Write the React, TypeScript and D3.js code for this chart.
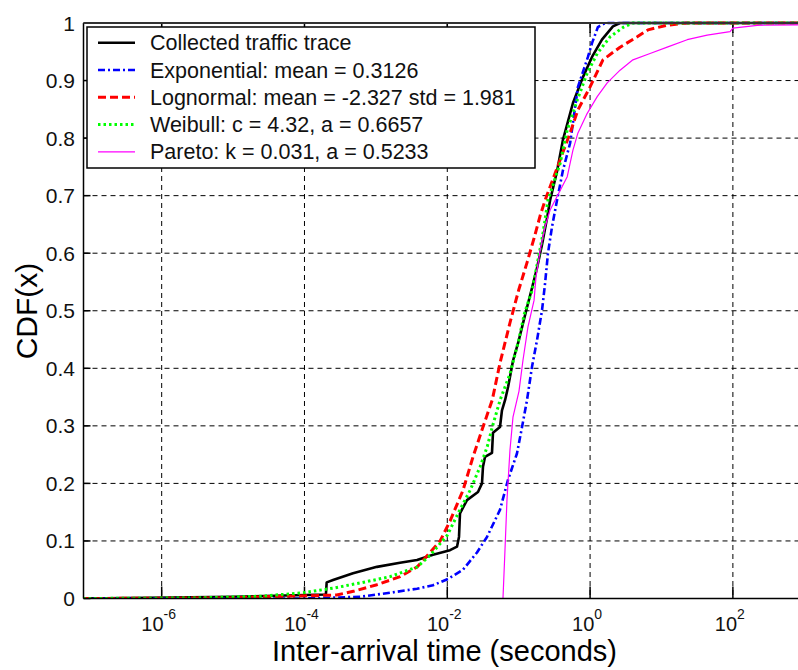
import React from "react";
import * as d3 from "d3";

// ---- data (x stored as log10 of inter-arrival time in seconds) ----
const traceLogX = [-7.1, -5.0, -3.7, -3.689, -3.6, -3.32, -2.985, -2.662, -2.424, -2.2, -1.962, -1.864, -1.836, -1.822, -1.724, -1.57, -1.514, -1.5, -1.472, -1.374, -1.36, -1.262, -1.234, -1.19, -1.148, -1.078, -1.008, -0.952, -0.881, -0.81, -0.74, -0.67, -0.6, -0.56, -0.46, -0.38, -0.24, -0.1, 0.027, 0.166, 0.32, 0.42, 3.0];
const traceCdf = [0.0, 0.003, 0.007, 0.028, 0.032, 0.044, 0.055, 0.062, 0.067, 0.076, 0.084, 0.09, 0.107, 0.148, 0.171, 0.185, 0.2, 0.229, 0.246, 0.253, 0.288, 0.298, 0.327, 0.345, 0.368, 0.414, 0.444, 0.472, 0.507, 0.541, 0.576, 0.617, 0.663, 0.692, 0.744, 0.797, 0.861, 0.906, 0.941, 0.971, 0.994, 1.0, 1.0];

const expLogX = [-7.1, -4.0, -3.22, -2.8, -2.424, -2.2, -1.99, -1.78, -1.682, -1.584, -1.444, -1.262, -1.15, -1.024, -0.953, -0.883, -0.813, -0.743, -0.673, -0.63, -0.59, -0.533, -0.463, -0.38, -0.28, -0.17, -0.03, 0.027, 0.11, 0.21, 3.0];
const expCdf = [0.0, 0.0, 0.003, 0.01, 0.017, 0.023, 0.034, 0.05, 0.065, 0.08, 0.107, 0.154, 0.206, 0.252, 0.298, 0.345, 0.403, 0.449, 0.501, 0.548, 0.6, 0.646, 0.692, 0.744, 0.791, 0.889, 0.941, 0.965, 0.993, 1.0, 1.0];

const lognLogX = [-7.1, -5.0, -4.6, -3.55, -3.3, -2.985, -2.66, -2.42, -2.1, -1.96, -1.78, -1.64, -1.5, -1.37, -1.26, -1.12, -1.0, -0.88, -0.78, -0.7, -0.63, -0.42, -0.28, -0.17, 0.0, 0.18, 0.42, 0.66, 0.81, 1.07, 1.35, 3.0];
const lognCdf = [0.0, 0.001, 0.003, 0.006, 0.013, 0.024, 0.038, 0.055, 0.1, 0.135, 0.188, 0.246, 0.298, 0.345, 0.41, 0.48, 0.536, 0.585, 0.628, 0.665, 0.692, 0.762, 0.809, 0.849, 0.889, 0.936, 0.958, 0.976, 0.988, 0.996, 1.0, 1.0];

const weibLogX = [-7.1, -5.5, -4.6, -4.02, -3.6, -3.22, -2.8, -2.42, -2.24, -2.0, -1.82, -1.68, -1.54, -1.44, -1.37, -1.26, -1.12, -1.0, -0.92, -0.81, -0.73, -0.66, -0.59, -0.42, -0.32, -0.18, -0.04, 0.1, 0.28, 0.47, 0.6, 3.0];
const weibCdf = [0.0, 0.001, 0.004, 0.01, 0.018, 0.027, 0.038, 0.055, 0.075, 0.11, 0.155, 0.188, 0.229, 0.264, 0.298, 0.345, 0.391, 0.449, 0.495, 0.536, 0.588, 0.634, 0.692, 0.756, 0.814, 0.866, 0.913, 0.947, 0.976, 0.993, 1.0, 1.0];

const paretoLogX = [-1.22, -1.192, -1.164, -1.122, -1.08, -1.024, -0.996, -0.94, -0.87, -0.785, -0.757, -0.7, -0.63, -0.56, -0.49, -0.32, -0.24, -0.17, -0.04, 0.1, 0.24, 0.42, 0.6, 0.84, 1.08, 1.36, 1.64, 1.96, 2.0, 2.34, 3.0];
const paretoCdf = [0.0, 0.084, 0.171, 0.258, 0.315, 0.345, 0.36, 0.414, 0.472, 0.518, 0.559, 0.605, 0.646, 0.675, 0.692, 0.733, 0.779, 0.809, 0.843, 0.872, 0.896, 0.918, 0.936, 0.947, 0.958, 0.971, 0.979, 0.985, 0.991, 0.996, 0.997];

const xTickExps = [-6, -4, -2, 0, 2];
const yTicks = [0, 0.1, 0.2, 0.3, 0.4, 0.5, 0.6, 0.7, 0.8, 0.9, 1];
const yTickLabels = ["0", "0.1", "0.2", "0.3", "0.4", "0.5", "0.6", "0.7", "0.8", "0.9", "1"];

const legendLabels = [
  "Collected traffic trace",
  "Exponential: mean = 0.3126",
  "Lognormal: mean = -2.327 std = 1.981",
  "Weibull: c = 4.32, a = 0.6657",
  "Pareto: k = 0.031, a = 0.5233",
];

const seriesStyles = [
  { color: "#000000", width: 2.6, dash: "none" },
  { color: "#0000ff", width: 2.6, dash: "7,3,2,3" },
  { color: "#ff0000", width: 3, dash: "8,4" },
  { color: "#00ff00", width: 3, dash: "2.5,3" },
  { color: "#ff00ff", width: 1.2, dash: "none" },
];

const FONT = "Arial, 'Liberation Sans', sans-serif";

export default function App() {
  const W = 798, H = 670;
  const left = 83.5, top = 23, bottom = 598.5;
  const pxPerDecade = 71.4;
  const xMinExp = -7.095, xMaxExp = 3.0;
  const x = d3.scaleLog()
    .domain([Math.pow(10, xMinExp), Math.pow(10, xMaxExp)])
    .range([left, left + (xMaxExp - xMinExp) * pxPerDecade]);
  const y = d3.scaleLinear().domain([0, 1]).range([bottom, top]);
  const right = W + 2;

  const series = [
    [traceLogX, traceCdf],
    [expLogX, expCdf],
    [lognLogX, lognCdf],
    [weibLogX, weibCdf],
    [paretoLogX, paretoCdf],
  ];
  const line = d3.line<[number, number]>()
    .x((d) => x(Math.pow(10, d[0])))
    .y((d) => y(d[1]));

  const legX = 87, legY = 27, legW = 448, legH = 141;
  const rowY = (i: number) => 42.7 + i * 27.3;

  return (
    <svg width={W} height={H} style={{ position: "fixed", left: 0, top: 0, background: "#fff" }}>
      <rect x={0} y={0} width={W} height={H} fill="#fff" />
      <defs>
        <clipPath id="plotclip">
          <rect x={left} y={top - 3} width={right - left} height={bottom - top + 3} />
        </clipPath>
      </defs>
      {/* grid */}
      {xTickExps.map((e) => (
        <line key={"gx" + e} x1={x(Math.pow(10, e))} x2={x(Math.pow(10, e))} y1={top} y2={bottom}
          stroke="#000" strokeWidth={1} strokeDasharray="5,4" />
      ))}
      {yTicks.filter((t) => t > 0 && t < 1).map((t) => (
        <line key={"gy" + t} x1={left} x2={right} y1={y(t)} y2={y(t)}
          stroke="#000" strokeWidth={1} strokeDasharray="5,4" />
      ))}
      {/* ticks */}
      {xTickExps.map((e) => (
        <g key={"tx" + e}>
          <line x1={x(Math.pow(10, e))} x2={x(Math.pow(10, e))} y1={bottom} y2={bottom - 12} stroke="#000" strokeWidth={1.5} />
          <line x1={x(Math.pow(10, e))} x2={x(Math.pow(10, e))} y1={top} y2={top + 10} stroke="#000" strokeWidth={1.5} />
        </g>
      ))}
      {yTicks.map((t) => (
        <line key={"ty" + t} x1={left} x2={left + 7} y1={y(t)} y2={y(t)} stroke="#000" strokeWidth={1.5} />
      ))}
      {/* curves */}
      <g clipPath="url(#plotclip)">
        {series.map(([lx, cv], i) => {
          const pts = lx.map((v, j) => [v, cv[j]] as [number, number]);
          const s = seriesStyles[i];
          return (
            <path key={"s" + i} d={line(pts) || ""} fill="none" stroke={s.color}
              strokeWidth={s.width} strokeDasharray={s.dash} strokeLinejoin="round" />
          );
        })}
      </g>
      {/* axes frame */}
      <line x1={left} x2={left} y1={top} y2={bottom} stroke="#000" strokeWidth={1.5} />
      <line x1={left} x2={right} y1={bottom} y2={bottom} stroke="#000" strokeWidth={1.5} />
      <line x1={left} x2={right} y1={top} y2={top} stroke="#333" strokeWidth={1.8} />
      {/* legend */}
      <rect x={legX} y={legY} width={legW} height={legH} fill="#fff" stroke="#000" strokeWidth={1.5} />
      {legendLabels.map((lab, i) => {
        const s = seriesStyles[i];
        return (
          <g key={"lg" + i}>
            <line x1={98} x2={135} y1={rowY(i)} y2={rowY(i)} stroke={s.color} strokeWidth={s.width}
              strokeDasharray={s.dash} />
            <text x={150} y={rowY(i) + 7.5} fontFamily={FONT} fontSize={21.5} fill="#111">{lab}</text>
          </g>
        );
      })}
      {/* y tick labels */}
      {yTicks.map((t, i) => (
        <text key={"yl" + t} x={75} y={y(t) + 7.5} textAnchor="end" fontFamily={FONT} fontSize={21} fill="#111">
          {yTickLabels[i]}
        </text>
      ))}
      {/* x tick labels */}
      {xTickExps.map((e) => (
        <text key={"xl" + e} x={x(Math.pow(10, e)) - 3} y={631} textAnchor="middle" fontFamily={FONT} fontSize={20} fill="#111">
          10<tspan fontSize={14} dy={-12}>{String(e)}</tspan>
        </text>
      ))}
      {/* axis titles */}
      <text x={444.5} y={661} textAnchor="middle" fontFamily={FONT} fontSize={29} fill="#000">
        Inter-arrival time (seconds)
      </text>
      <text transform="translate(37,311) rotate(-90)" textAnchor="middle" fontFamily={FONT} fontSize={30} fill="#000">
        CDF(x)
      </text>
    </svg>
  );
}
